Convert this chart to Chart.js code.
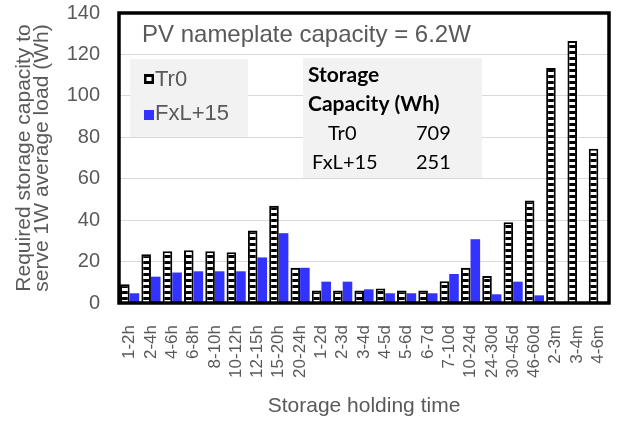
<!DOCTYPE html>
<html>
<head>
<meta charset="utf-8">
<script src="https://cdn.jsdelivr.net/npm/chart.js@4"></script>
<style>
    html, body { margin: 0; padding: 0; background: #fff; }
    #wrap { width: 620px; height: 423px; }
</style>
</head>
<body>
<div id="wrap"><canvas id="chart"></canvas></div>
<script>
// Chart data
const holdingTimes = ['1-2h', '2-4h', '4-6h', '6-8h', '8-10h', '10-12h', '12-15h', '15-20h', '20-24h',
    '1-2d', '2-3d', '3-4d', '4-5d', '5-6d', '6-7d', '7-10d', '10-24d', '24-30d', '30-45d', '46-60d',
    '2-3m', '3-4m', '4-6m'];
const tr0Values = [9, 23.5, 25, 25.5, 25, 24.5, 35, 47, 17, 6, 6, 6, 7, 6, 6, 10.5, 17, 13, 39, 49.5, 113.5, 126.5, 74.5];
const fxlValues = [4.7, 12.7, 14.7, 15.3, 15.3, 15.3, 22, 33.7, 17, 10.3, 10.3, 6.6, 4.7, 4.7, 4.7, 14, 30.8, 4.2, 10.3, 3.7, 0.5, 0, 0];
const yTicks = [0, 20, 40, 60, 80, 100, 120, 140];
const tableRows = [['Tr0', '709'], ['FxL+15', '251']];

const GRAY = '#595959';
const FONT = '"Liberation Sans", Arial, sans-serif';
const TABLE_FONT = 'Lato, "Open Sans", sans-serif';

// ladder-like fill for the Tr0 bars
function makeStripes() {
    const c = document.createElement('canvas');
    c.width = 6;
    c.height = 6;
    const g = c.getContext('2d');
    g.fillStyle = '#000';
    g.fillRect(0, 0, 6, 6);
    g.fillStyle = '#fff';
    g.fillRect(0, 0, 6, 3);
    return document.getElementById('chart').getContext('2d').createPattern(c, 'repeat');
}

const overlay = {
    id: 'overlay',
    afterDatasetsDraw(chart) {
        const ctx = chart.ctx;
        const a = chart.chartArea;
        ctx.save();
        ctx.textBaseline = 'middle';

        // title inside plot
        ctx.fillStyle = GRAY;
        ctx.font = '24px ' + FONT;
        ctx.fillText('PV nameplate capacity = 6.2W', 142, 35);

        // legend box
        ctx.fillStyle = '#f2f2f2';
        ctx.fillRect(130, 59, 118, 78);
        ctx.fillStyle = '#000';
        ctx.fillRect(144, 74, 10, 10);
        ctx.fillStyle = '#fff';
        ctx.fillRect(146.5, 77, 5, 4);
        ctx.fillStyle = '#3333ff';
        ctx.fillRect(144, 110, 10, 10);
        ctx.fillStyle = GRAY;
        ctx.font = '22px ' + FONT;
        ctx.fillText('Tr0', 155, 80);
        ctx.fillText('FxL+15', 155, 114);

        // storage capacity table
        ctx.fillStyle = '#f2f2f2';
        ctx.fillRect(303, 58, 179, 120);
        ctx.fillStyle = '#000';
        ctx.font = 'bold 21px ' + TABLE_FONT;
        ctx.fillText('Storage', 308, 75);
        ctx.fillText('Capacity (Wh)', 308, 104);
        ctx.font = '20px ' + TABLE_FONT;
        tableRows.forEach((row, i) => {
            const y = 134 + i * 29;
            ctx.fillText(row[0], i === 0 ? 328 : 312, y);
            ctx.fillText(row[1], 416, y);
        });

        // heavy frame around plot area
        ctx.strokeStyle = '#000';
        ctx.lineWidth = 3.5;
        ctx.strokeRect(a.left, a.top, a.right - a.left, a.bottom - a.top);
        ctx.restore();
    }
};

const ctx = document.getElementById('chart').getContext('2d');
const chart = new Chart(ctx, {
    type: 'bar',
    data: {
        labels: holdingTimes,
        datasets: [{
            label: 'Tr0',
            data: tr0Values,
            backgroundColor: makeStripes(),
            borderColor: '#000',
            borderWidth: 2,
            borderSkipped: 'bottom'
        }, {
            label: 'FxL+15',
            data: fxlValues,
            backgroundColor: '#3333ff',
            borderWidth: 0
        }]
    },
    options: {
        responsive: true,
        maintainAspectRatio: false,
        animation: false,
        datasets: {
            bar: {
                categoryPercentage: 0.9,
                barPercentage: 1.0
            }
        },
        layout: {
            padding: { left: 13, right: 11, top: 0, bottom: 4 }
        },
        plugins: {
            legend: { display: false },
            tooltip: { enabled: false }
        },
        scales: {
            x: {
                afterFit(scale) {
                    scale.height = 116;
                    scale.paddingLeft = 0;
                    scale.paddingRight = 0;
                },
                grid: { display: false },
                border: { display: false },
                ticks: {
                    color: GRAY,
                    font: { family: FONT, size: 17 },
                    maxRotation: 90,
                    minRotation: 90,
                    autoSkip: false,
                    padding: 14
                },
                title: {
                    display: true,
                    text: 'Storage holding time',
                    color: GRAY,
                    font: { family: FONT, size: 21 },
                    padding: { top: 20, bottom: 0 }
                }
            },
            y: {
                min: 0,
                max: 140,
                afterBuildTicks(scale) {
                    scale.ticks = yTicks.map(v => ({ value: v }));
                },
                afterFit(scale) {
                    scale.width = 106;
                    scale.paddingTop = 13;
                    scale.paddingBottom = 0;
                },
                grid: {
                    color: '#d9d9d9',
                    drawTicks: false
                },
                border: { display: false },
                ticks: {
                    color: GRAY,
                    font: { family: FONT, size: 20 },
                    padding: 19
                },
                title: {
                    display: true,
                    text: ['Required storage capacity to', 'serve 1W average load (Wh)'],
                    color: GRAY,
                    font: { family: FONT, size: 21, lineHeight: 0.87 },
                    padding: { top: 2, bottom: 14 }
                }
            }
        }
    },
    plugins: [overlay]
});
</script>
</body>
</html>
